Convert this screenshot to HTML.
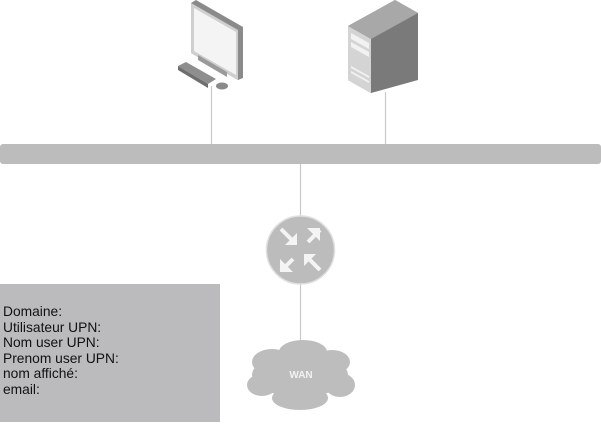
<!DOCTYPE html>
<html><head><meta charset="utf-8"><style>
body{margin:0;width:601px;height:424px;background:#fff;position:relative;overflow:hidden;font-family:"Liberation Sans",Arial,sans-serif}
.box{position:absolute;left:0;top:284px;width:220px;height:138px;background:#bbbbbd}
.txt{position:absolute;left:3px;top:304px;font-size:13.8px;line-height:15.6px;color:#111}
</style></head><body>
<svg width="601" height="424" style="position:absolute;left:0;top:0">
<g stroke="#c8c8c8" stroke-width="1.2">
<line x1="211.5" y1="86" x2="211.5" y2="144"/>
<line x1="385.5" y1="92" x2="385.5" y2="144"/>
<line x1="300.5" y1="164" x2="300.5" y2="216"/>
<line x1="300.5" y1="284" x2="300.5" y2="342"/>
</g>
<rect x="0" y="144" width="601" height="20" rx="3" fill="#bcbcbc"/>
<!-- computer -->
<polygon points="191,3 196,0 243,27 243,78 238,80 191,53" fill="#8a8a8a"/>
<polygon points="191,3 238,30 238,80 191,53" fill="#cfcfcf"/>
<polygon points="194,8 236,32 236,75 194,51" fill="#f4f4f4"/>
<polygon points="198,55 227,72 227,77 198,60" fill="#9a9a9a"/>
<polygon points="178,66 186,62 216,79 208,84" fill="#8e8e8e"/>
<polygon points="178,66 208,84 208,88 178,70" fill="#6e6e6e"/>
<ellipse cx="222" cy="86" rx="6" ry="3.5" fill="#8a8a8a"/>
<!-- server -->
<polygon points="348,26 395,0 418,13 418,80 371,93 348,80" fill="#7a7a7a"/>
<polygon points="348,26 395,0 418,13 371,39" fill="#a8a8a8"/>
<polygon points="348,26 371,39 371,93 348,80" fill="#d4d4d4"/>
<polygon points="351,33 369,43 369,49 351,39" fill="#f2f2f2"/>
<polygon points="351,42 369,52 369,57 351,47" fill="#f2f2f2"/>
<polygon points="351,66 369,76 369,78 351,68" fill="#f2f2f2"/>
<polygon points="351,71 369,81 369,83 351,73" fill="#f2f2f2"/>
<!-- router -->
<circle cx="300.5" cy="250" r="34" fill="#bcbcbc" stroke="#e0e0e0" stroke-width="1.5"/>
<g stroke="#f4f4f4" stroke-width="4" fill="none">
<line x1="281" y1="229" x2="293" y2="241"/>
<line x1="320" y1="230" x2="308" y2="242"/>
<line x1="281" y1="271" x2="293" y2="259"/>
<line x1="320" y1="270" x2="308" y2="258"/>
</g>
<g fill="#f4f4f4">
<polygon points="297,245 285,245 297,233"/>
<polygon points="320,228 320,241 307,228"/>
<polygon points="280,272 280,259 293,272"/>
<polygon points="304,254 316,254 304,266"/>
</g>
<!-- cloud -->
<g fill="#bdbdbd">
<ellipse cx="300" cy="375" rx="48" ry="22"/>
<ellipse cx="272" cy="362" rx="20" ry="13"/>
<ellipse cx="303" cy="352" rx="24" ry="12"/>
<ellipse cx="332" cy="362" rx="18" ry="12"/>
<ellipse cx="340" cy="385" rx="15" ry="12"/>
<ellipse cx="262" cy="385" rx="15" ry="11"/>
<ellipse cx="300" cy="398" rx="28" ry="12"/>
</g>
<text x="301" y="378" text-anchor="middle" font-family="Liberation Sans,Arial,sans-serif" font-size="10" font-weight="bold" fill="#f2f2f2">WAN</text>
</svg>
<div class="box"></div>
<div class="txt">Domaine:<br>Utilisateur UPN:<br>Nom user UPN:<br>Prenom user UPN:<br>nom affiché:<br>email:</div>
</body></html>
